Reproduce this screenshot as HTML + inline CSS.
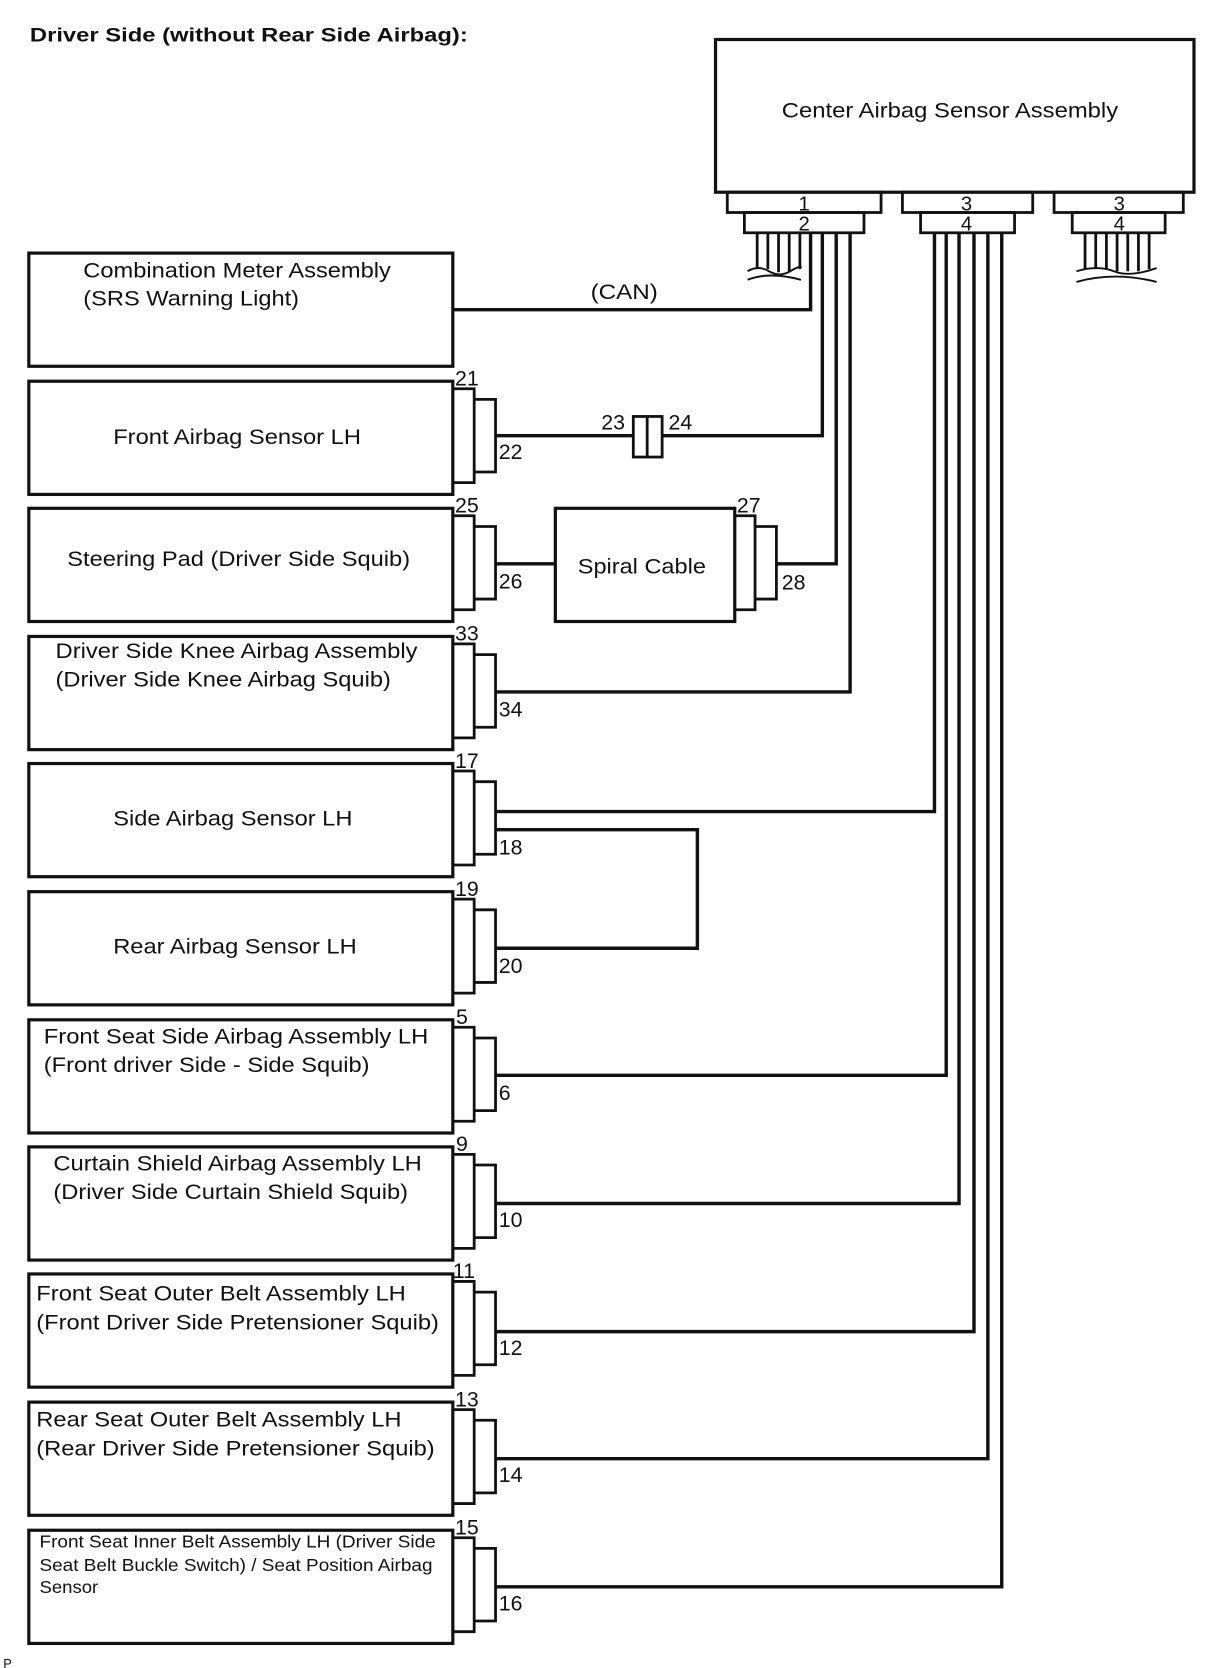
<!DOCTYPE html>
<html><head><meta charset="utf-8"><style>
html,body{margin:0;padding:0;background:#fff;}
svg{display:block;}
text{font-family:"Liberation Sans",sans-serif;fill:#111;}
</style></head><body>
<svg width="1210" height="1668" viewBox="0 0 1133 1562" preserveAspectRatio="none" xmlns="http://www.w3.org/2000/svg">
<g fill="none" stroke="#111" stroke-width="2.6">
<rect x="670" y="37" width="448" height="143" stroke-width="3"/>
<rect x="681" y="180" width="144" height="19"/>
<rect x="697" y="199" width="112" height="19"/>
<rect x="845" y="180" width="122" height="19"/>
<rect x="862" y="199" width="88" height="19"/>
<rect x="987" y="180" width="121" height="19"/>
<rect x="1004" y="199" width="87" height="19"/>
<path d="M709 218V252M719 218V252M729 218V255M739 218V255M749 218V252"/>
<path d="M700 254q10-6 20 0t20 0 10 -3M700 262q20-8 50 0" stroke-width="1.8"/>
<path d="M1016 218V252M1026 218V252M1036 218V252M1046 218V254M1056 218V254M1066 218V254M1076 218V252"/>
<path d="M1008 254q20-6 35 0t40 -3M1008 264q35-10 75 0" stroke-width="1.8"/>
<g stroke-width="3.2">
<path d="M424 290H759V218"/>
<path d="M464 408H593M620 408H770V218"/>
<path d="M464 528H520M727 528H783V218"/>
<path d="M464 648H796V218"/>
<path d="M464 760H875V218"/>
<path d="M464 777H653V888H464"/>
<path d="M464 1007H886V218"/>
<path d="M464 1127H898V218"/>
<path d="M464 1247H912V218"/>
<path d="M464 1366H925V218"/>
<path d="M464 1486H938V218"/>
</g>
<rect x="593" y="390" width="27" height="38"/>
<path d="M606 390V428"/>
<rect x="27" y="237" width="397" height="106" stroke-width="3"/>
<rect x="27" y="357" width="397" height="106" stroke-width="3"/>
<rect x="27" y="476" width="397" height="106" stroke-width="3"/>
<rect x="27" y="596" width="397" height="106" stroke-width="3"/>
<rect x="27" y="715" width="397" height="106" stroke-width="3"/>
<rect x="27" y="835" width="397" height="106" stroke-width="3"/>
<rect x="27" y="955" width="397" height="106" stroke-width="3"/>
<rect x="27" y="1074" width="397" height="106" stroke-width="3"/>
<rect x="27" y="1193" width="397" height="106" stroke-width="3"/>
<rect x="27" y="1313" width="397" height="106" stroke-width="3"/>
<rect x="27" y="1433" width="397" height="106" stroke-width="3"/>
<rect x="520" y="476" width="168" height="106" stroke-width="3"/>
<g>
<path d="M424 364H444V452H424M444 374H464V442H444"/>
<path d="M424 483H444V571H424M444 493H464V561H444"/>
<path d="M424 603H444V691H424M444 613H464V681H444"/>
<path d="M424 722H444V810H424M444 732H464V800H444"/>
<path d="M424 842H444V930H424M444 852H464V920H444"/>
<path d="M424 962H444V1050H424M444 972H464V1040H444"/>
<path d="M424 1081H444V1169H424M444 1091H464V1159H444"/>
<path d="M424 1200H444V1288H424M444 1210H464V1278H444"/>
<path d="M424 1320H444V1408H424M444 1330H464V1398H444"/>
<path d="M424 1440H444V1528H424M444 1450H464V1518H444"/>
<path d="M688 483H707V571H688M707 493H727V561H707"/>
</g>
</g>
<text x="28" y="39" font-size="18" font-weight="bold" textLength="410" lengthAdjust="spacingAndGlyphs">Driver Side (without Rear Side Airbag):</text>
<text x="732" y="110" font-size="20" textLength="315" lengthAdjust="spacingAndGlyphs">Center Airbag Sensor Assembly</text>
<g font-size="19" text-anchor="middle">
<text x="753" y="197">1</text><text x="753" y="216">2</text>
<text x="905" y="197">3</text><text x="905" y="216">4</text>
<text x="1048" y="197">3</text><text x="1048" y="216">4</text>
</g>
<g font-size="20" lengthAdjust="spacingAndGlyphs">
<text x="78" y="260" textLength="288" lengthAdjust="spacingAndGlyphs">Combination Meter Assembly</text>
<text x="78" y="286" textLength="202" lengthAdjust="spacingAndGlyphs">(SRS Warning Light)</text>
<text x="553" y="280" textLength="63" lengthAdjust="spacingAndGlyphs">(CAN)</text>
<text x="106" y="416" textLength="232" lengthAdjust="spacingAndGlyphs">Front Airbag Sensor LH</text>
<text x="63" y="530" textLength="321" lengthAdjust="spacingAndGlyphs">Steering Pad (Driver Side Squib)</text>
<text x="541" y="537" textLength="120" lengthAdjust="spacingAndGlyphs">Spiral Cable</text>
<text x="52" y="616" textLength="339" lengthAdjust="spacingAndGlyphs">Driver Side Knee Airbag Assembly</text>
<text x="52" y="643" textLength="314" lengthAdjust="spacingAndGlyphs">(Driver Side Knee Airbag Squib)</text>
<text x="106" y="773" textLength="224" lengthAdjust="spacingAndGlyphs">Side Airbag Sensor LH</text>
<text x="106" y="893" textLength="228" lengthAdjust="spacingAndGlyphs">Rear Airbag Sensor LH</text>
<text x="41" y="977" textLength="360" lengthAdjust="spacingAndGlyphs">Front Seat Side Airbag Assembly LH</text>
<text x="41" y="1004" textLength="305" lengthAdjust="spacingAndGlyphs">(Front driver Side - Side Squib)</text>
<text x="50" y="1096" textLength="345" lengthAdjust="spacingAndGlyphs">Curtain Shield Airbag Assembly LH</text>
<text x="50" y="1123" textLength="332" lengthAdjust="spacingAndGlyphs">(Driver Side Curtain Shield Squib)</text>
<text x="34" y="1218" textLength="346" lengthAdjust="spacingAndGlyphs">Front Seat Outer Belt Assembly LH</text>
<text x="34" y="1245" textLength="377" lengthAdjust="spacingAndGlyphs">(Front Driver Side Pretensioner Squib)</text>
<text x="34" y="1336" textLength="342" lengthAdjust="spacingAndGlyphs">Rear Seat Outer Belt Assembly LH</text>
<text x="34" y="1363" textLength="373" lengthAdjust="spacingAndGlyphs">(Rear Driver Side Pretensioner Squib)</text>
</g>
<g font-size="16">
<text x="37" y="1449" textLength="371" lengthAdjust="spacingAndGlyphs">Front Seat Inner Belt Assembly LH (Driver Side</text>
<text x="37" y="1471" textLength="368" lengthAdjust="spacingAndGlyphs">Seat Belt Buckle Switch) / Seat Position Airbag</text>
<text x="37" y="1492" textLength="55" lengthAdjust="spacingAndGlyphs">Sensor</text>
</g>
<g font-size="20">
<text x="426" y="361">21</text><text x="467" y="430">22</text>
<text x="563" y="402">23</text><text x="626" y="402">24</text>
<text x="426" y="480">25</text><text x="467" y="551">26</text>
<text x="690" y="480">27</text><text x="732" y="552">28</text>
<text x="426" y="600">33</text><text x="467" y="671">34</text>
<text x="426" y="719">17</text><text x="467" y="800">18</text>
<text x="426" y="839">19</text><text x="467" y="911">20</text>
<text x="427" y="959">5</text><text x="467" y="1030">6</text>
<text x="427" y="1078">9</text><text x="467" y="1149">10</text>
<text x="424" y="1197">11</text><text x="467" y="1269">12</text>
<text x="426" y="1317">13</text><text x="467" y="1388">14</text>
<text x="426" y="1437">15</text><text x="467" y="1508">16</text>
</g>
<text x="3" y="1562" font-size="12">P</text>
</svg>
</body></html>
